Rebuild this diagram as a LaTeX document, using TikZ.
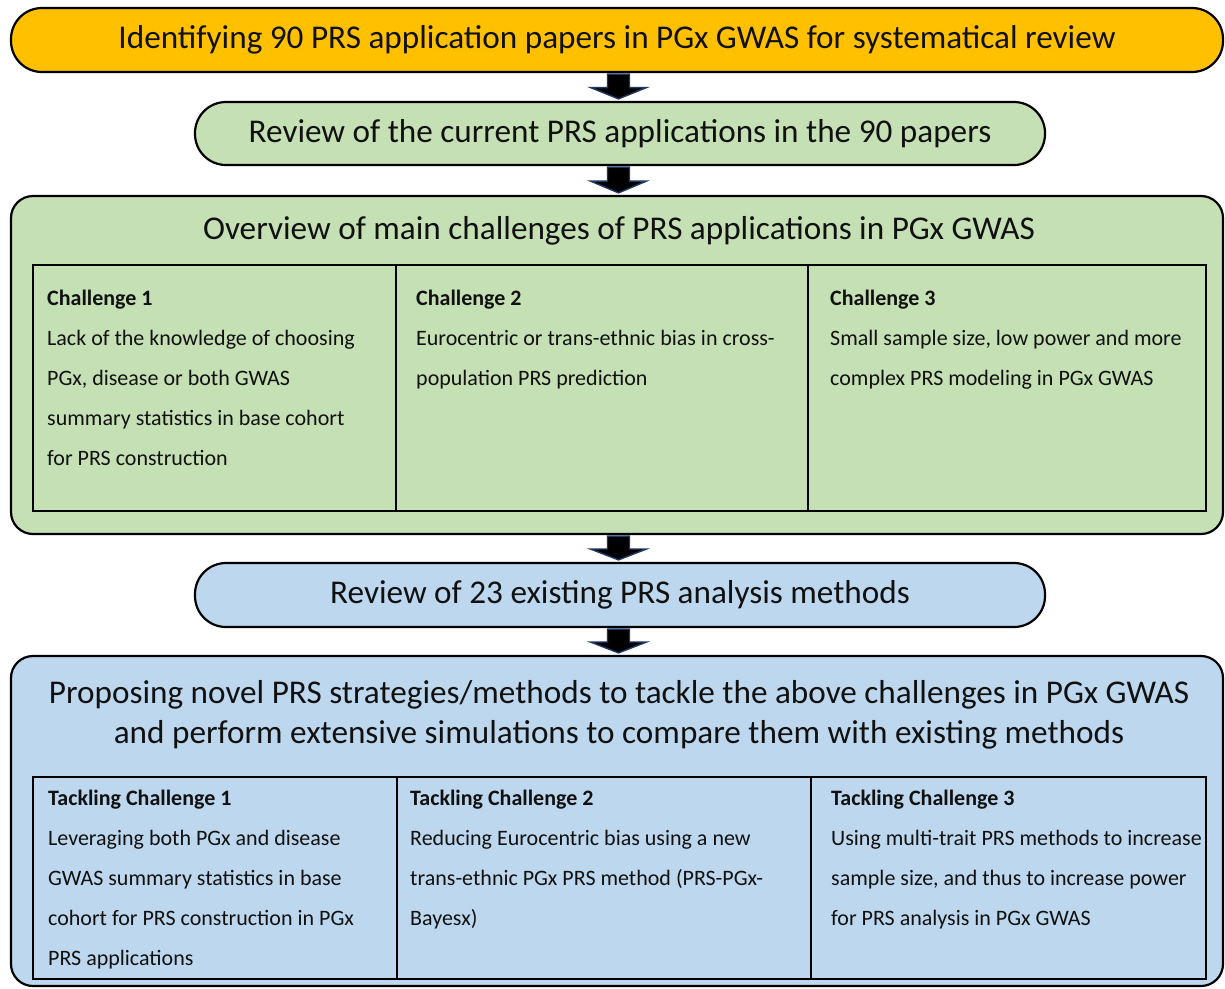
\documentclass[tikz,border=0pt]{standalone}
\usepackage{fontspec}
\setmainfont{Carlito}
\usetikzlibrary{calc}
\definecolor{orangefill}{HTML}{FFC000}
\definecolor{greenfill}{HTML}{C5E0B4}
\definecolor{bluefill}{HTML}{BDD7EE}
\definecolor{arrowedge}{HTML}{203864}
\definecolor{ink}{HTML}{111111}
\tikzset{
  pill/.style={draw=black, line width=2.2pt, rounded corners=31pt, inner sep=0pt,
    font=\fontsize{33.2}{38}\selectfont, text=ink},
  panel/.style={draw=black, line width=2.2pt, rounded corners=22pt, inner sep=0pt},
  grid/.style={draw=black, line width=2.2pt, inner sep=0pt},
  heading/.style={inner sep=0pt, font=\fontsize{33.2}{40}\selectfont, text=ink, align=center},
  celltext/.style={inner sep=0pt, anchor=north west, align=left, text=ink,
    font=\fontsize{22}{40}\selectfont},
  barrow/.style={fill=black, draw=arrowedge, line width=1.4pt, line join=miter},
}
% block arrow from the bottom of #1 to the top of #2
\newcommand\flowarrow[2]{%
  \draw[barrow] let \p1=(#1.south), \p2=(#2.north),
      \n1={(\x1+\x2)/2}, \n2={\y1-0.52*(\y1-\y2)} in
    (\n1-11pt,\y1-1pt) -- (\n1+11pt,\y1-1pt) -- (\n1+11pt,\n2) -- (\n1+28pt,\n2)
    -- (\n1,\y2+2pt) -- (\n1-28pt,\n2) -- (\n1-11pt,\n2) -- cycle;}
\begin{document}
\begin{tikzpicture}[x=1pt,y=-1pt]
\useasboundingbox (0,0) rectangle (1225,988);

% stage 1
\node[pill, fill=orangefill, minimum width=1212pt, minimum height=64pt] (ident) at (617,40)
  {Identifying 90 PRS application papers in PGx GWAS for systematical review};

% stage 2
\node[pill, fill=greenfill, minimum width=850pt, minimum height=63pt] (curr) at (620,133.5)
  {Review of the current PRS applications in the 90 papers};

% stage 3: challenges
\node[panel, fill=greenfill, minimum width=1212pt, minimum height=338pt] (chal) at (617,365) {};
\node[heading] (chalhead) at (619,231) {Overview of main challenges of PRS applications in PGx GWAS};
\node[grid, minimum width=1173pt, minimum height=246pt] (chaltab) at (619.5,388) {};
\draw[line width=2.2pt] ($(chaltab.north west)+(364,0)$) coordinate (cd1) -- (cd1 |- chaltab.south);
\draw[line width=2.2pt] ($(chaltab.north west)+(776,0)$) coordinate (cd2) -- (cd2 |- chaltab.south);
\node[celltext] (ch1) at (47,289.5) {\textbf{Challenge 1}\\Lack of the knowledge of choosing\\PGx, disease or both GWAS\\summary statistics in base cohort\\for PRS construction};
\node[celltext] (ch2) at (416,289.5) {\textbf{Challenge 2}\\Eurocentric or trans-ethnic bias in cross-\\population PRS prediction};
\node[celltext] (ch3) at (830,289.5) {\textbf{Challenge 3}\\Small sample size, low power and more\\complex PRS modeling in PGx GWAS};

% stage 4
\node[pill, fill=bluefill, minimum width=850pt, minimum height=64pt] (meth) at (620,595)
  {Review of 23 existing PRS analysis methods};

% stage 5: proposals
\node[panel, fill=bluefill, minimum width=1212pt, minimum height=330pt] (prop) at (617,821) {};
\node[heading] (prophead) at (619,715) {Proposing novel PRS strategies/methods to tackle the above challenges in PGx GWAS\\and perform extensive simulations to compare them with existing methods};
\node[grid, minimum width=1173pt, minimum height=202pt] (proptab) at (619.5,878) {};
\draw[line width=2.2pt] ($(proptab.north west)+(365,0)$) coordinate (pd1) -- (pd1 |- proptab.south);
\draw[line width=2.2pt] ($(proptab.north west)+(779,0)$) coordinate (pd2) -- (pd2 |- proptab.south);
\node[celltext] (tk1) at (48,789.5) {\textbf{Tackling Challenge 1}\\Leveraging both PGx and disease\\GWAS summary statistics in base\\cohort for PRS construction in PGx\\PRS applications};
\node[celltext] (tk2) at (410,789.5) {\textbf{Tackling Challenge 2}\\Reducing Eurocentric bias using a new\\trans-ethnic PGx PRS method (PRS-PGx-\\Bayesx)};
\node[celltext] (tk3) at (831,789.5) {\textbf{Tackling Challenge 3}\\Using multi-trait PRS methods to increase\\sample size, and thus to increase power\\for PRS analysis in PGx GWAS};

% connectors
\flowarrow{ident}{curr}
\flowarrow{curr}{chal}
\flowarrow{chal}{meth}
\flowarrow{meth}{prop}
\end{tikzpicture}
\end{document}
